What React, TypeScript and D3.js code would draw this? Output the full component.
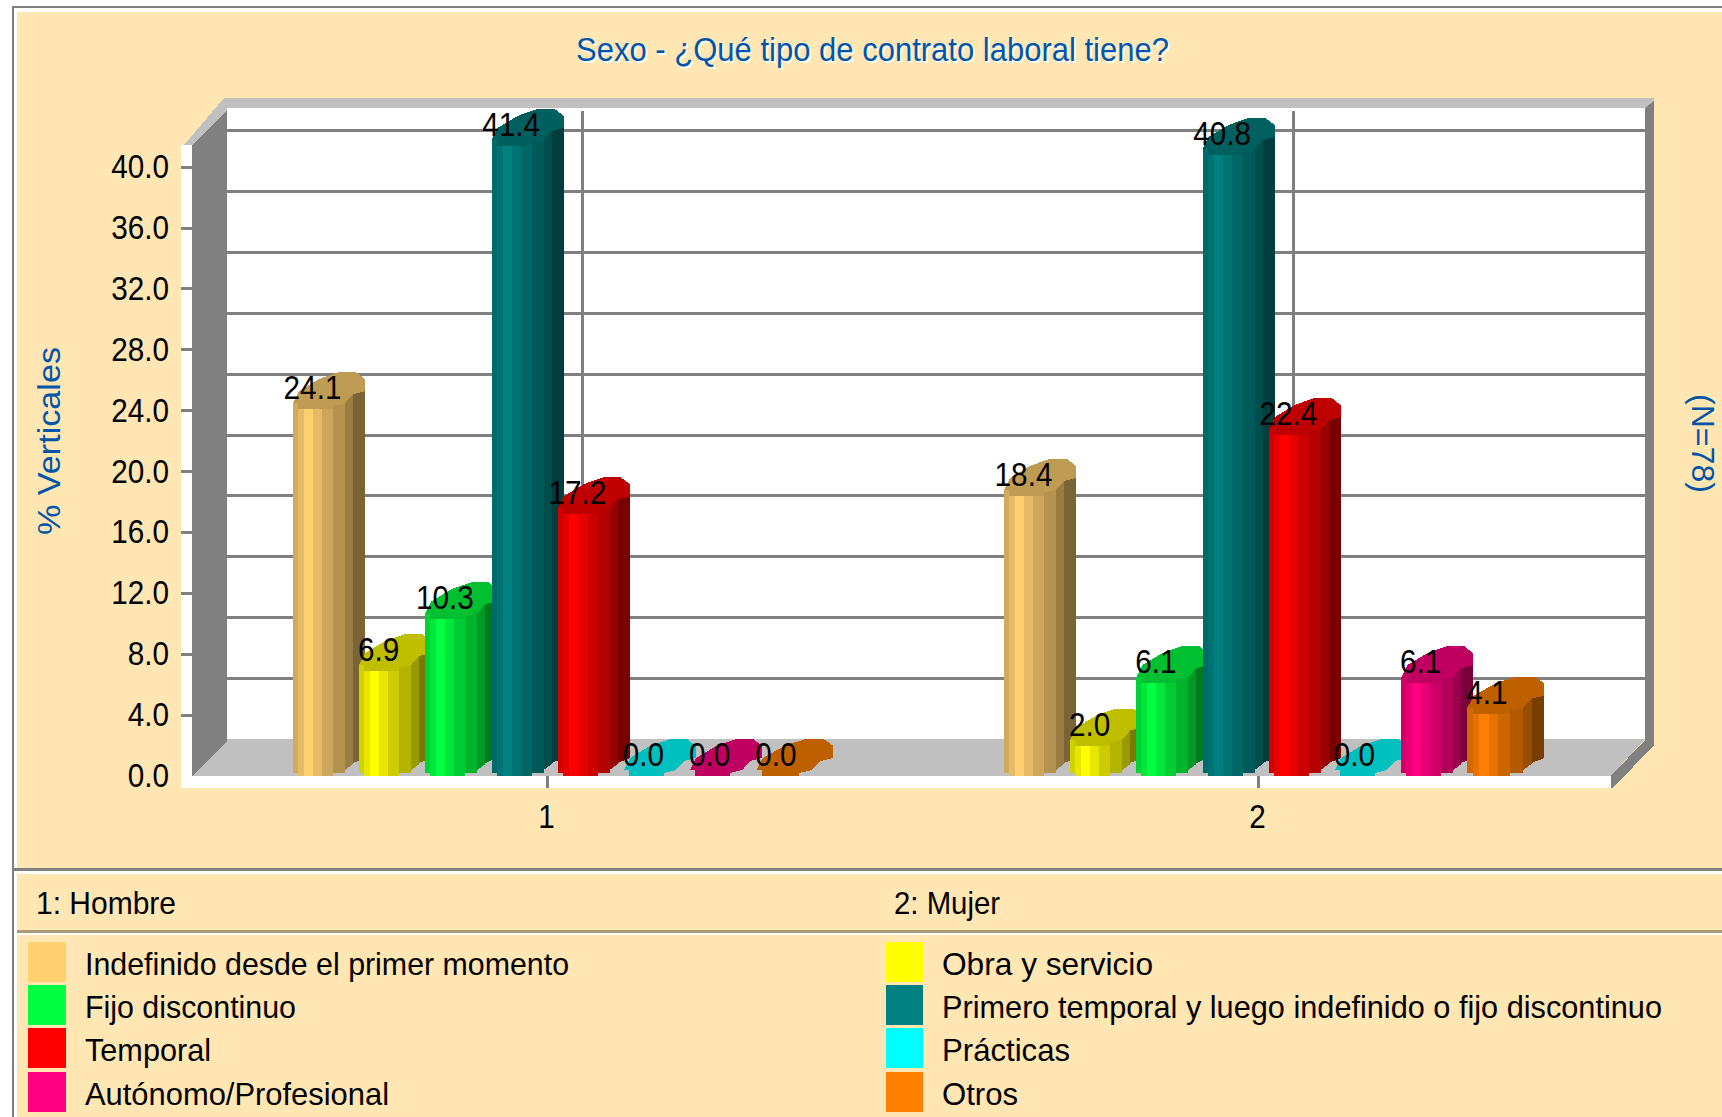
import React from "react";
import * as d3 from "d3";

// ---- data ----
const groups = ["1", "2"];
const groupNames = ["1: Hombre", "2: Mujer"];
const seriesNames = [
  "Indefinido desde el primer momento",
  "Obra y servicio",
  "Fijo discontinuo",
  "Primero temporal y luego indefinido o fijo discontinuo",
  "Temporal",
  "Prácticas",
  "Autónomo/Profesional",
  "Otros",
];
const seriesColors = ["#FFD070", "#FFFF00", "#00FF40", "#008080", "#FF0000", "#00FFFF", "#FF0080", "#FF8000"];
const hombreValues = [24.1, 6.9, 10.3, 41.4, 17.2, 0.0, 0.0, 0.0];
const mujerValues = [18.4, 2.0, 6.1, 40.8, 22.4, 0.0, 6.1, 4.1];
const yTicks = [0, 4, 8, 12, 16, 20, 24, 28, 32, 36, 40];
const title = "Sexo - ¿Qué tipo de contrato laboral tiene?";
const yTitle = "% Verticales";
const rightTitle = "(N=78)";

// ---- layout ----
const W = 1722, H = 1117;
const BG = "#FFE6B3", GRAY = "#808080", LIGHT = "#C0C0C0", INK = "#0055AA";
const FONT = "'Liberation Sans', Arial, sans-serif";
const y = d3.scaleLinear().domain([0, 40]).range([776, 167.2]);
const DEPTH_Y = 36.5;
const groupX = d3.scalePoint<string>().domain(groups).range([547, 1258]);
const barX = d3.scaleLinear().domain([0, 7]).range([-254, 209.4]);
const line = d3.line<[number, number]>().x(d => d[0]).y(d => d[1]);
const closed = (pts: [number, number][]) => line(pts) + "Z";

// facets of the faceted cylinder: dx0, dx1, shade, top dy at both ends, bottom dy at both ends
const facets = [
  [0, 6, 0.82, -6, -6, -3, -3],
  [5, 11, 0.9, 0, 0, 0, 0],
  [11, 20, 1, 0, 0, 0, 0],
  [20, 29, 0.9, 0, 0, 0, 0],
  [29, 40, 0.8, 0, 0, 0, 0],
  [40, 52, 0.7, -3, -6, -3, -3],
  [52, 60, 0.6, -6, -15, -6, -12],
  [60, 72, 0.48, -15, -18, -13, -18],
];
const cap: [number, number][] = [
  [0, -6], [5, -6], [5, 0], [40, 0], [40, -3], [52, -6], [60, -15], [72, -18], [72, -30],
  [63, -37], [46, -37], [34, -33], [26, -30], [6, -18],
];
const shade = (c: string, k: number) => {
  const r = d3.rgb(c);
  return d3.rgb(r.r * k, r.g * k, r.b * k).formatHex();
};

const legendTextWidths = [484, 211, 211, 720, 126, 128, 304, 76];
const legendRows = [942, 985, 1028, 1072];
const legendCols = [[28, 85], [886, 942]];
const groupNameWidths = [140, 106];

function Label({ x, y, children, anchor = "middle" }: any) {
  return (
    <text transform={`translate(${x},${y}) scale(0.9,1)`} textAnchor={anchor} fontFamily={FONT} fontSize={33} fill="#000">
      {children}
    </text>
  );
}

function Bar({ x0, value, color, stretch }: { x0: number; value: number; color: string; stretch: number }) {
  const T = y(value);
  const base = y(0);
  return (
    <g shapeRendering="crispEdges">
      {value > 0 &&
        facets.map((f, i) => (
          <path
            key={i}
            fill={shade(color, f[2])}
            d={closed([
              [x0 + f[0] * stretch, T + f[3]],
              [x0 + f[1] * stretch, T + f[4]],
              [x0 + f[1] * stretch, base + f[6]],
              [x0 + f[0] * stretch, base + f[5]],
            ])}
          />
        ))}
      <path fill={shade(color, 0.75)} d={closed(cap.map(p => [x0 + p[0] * stretch, T + p[1]] as [number, number]))} />
    </g>
  );
}

export default function App() {
  const seriesByGroup = [hombreValues, mujerValues];
  const xOf = (g: number, i: number) => (groupX(groups[g]) as number) + barX(i);
  return (
    <svg width={W} height={H} style={{ position: "absolute", left: 0, top: 0, background: "#fff" }}>
      {/* frame */}
      <rect x={12} y={6} width={W - 12} height={H - 6} fill={GRAY} />
      <rect x={14} y={8} width={W - 14} height={H - 8} fill="#fff" />
      <rect x={17} y={12} width={W - 17} height={H - 12} fill={BG} />

      {/* title */}
      <text x={578} y={63} fontFamily={FONT} fontSize={33} fill="#fff" textLength={593} lengthAdjust="spacingAndGlyphs">{title}</text>
      <text x={576} y={61} fontFamily={FONT} fontSize={33} fill={INK} textLength={593} lengthAdjust="spacingAndGlyphs">{title}</text>

      {/* 3D plot box */}
      <g shapeRendering="crispEdges">
        <rect x={227} y={108} width={1418} height={631} fill="#fff" />
        <path fill={LIGHT} d={closed([[184, 145], [224, 98], [1654, 98], [1654, 101], [1645, 108], [227, 108], [227, 111], [192, 145]])} />
        <rect x={181} y={145} width={11} height={643} fill="#fff" />
        <rect x={181} y={776} width={1430} height={12} fill="#fff" />
        <path fill={GRAY} d={closed([[192, 145], [227, 111], [227, 742], [192, 776]])} />
        <path fill={GRAY} d={closed([[1645, 108], [1654, 101], [1654, 745], [1613, 788], [1611, 788], [1611, 776], [1645, 740]])} />
        {yTicks.filter(t => t > 0).map(t => (
          <g key={t}>
            <rect x={227} y={y(t) - DEPTH_Y - 1.5} width={1418} height={3} fill={GRAY} />
            <rect x={181} y={y(t) - 1.5} width={11} height={3} fill={GRAY} />
          </g>
        ))}
        {groups.map(g => (
          <g key={g}>
            <rect x={(groupX(g) as number) + 34} y={111} width={3} height={628} fill={GRAY} />
            <rect x={(groupX(g) as number) - 1} y={776} width={3} height={12} fill={GRAY} />
          </g>
        ))}
        <path fill={LIGHT} d={closed([[227, 739], [1645, 739], [1611, 776], [192, 776], [227, 742]])} />
      </g>

      {/* bars */}
      {seriesByGroup.map((vals, g) =>
        vals.map((v, i) => (
          <Bar key={`${g}-${i}`} x0={xOf(g, i)} value={v} color={seriesColors[i]} stretch={i === vals.length - 1 ? 1.07 : 1} />
        ))
      )}

      {/* data labels */}
      {seriesByGroup.map((vals, g) =>
        vals.map((v, i) => (
          <Label key={`${g}-${i}`} x={xOf(g, i) + 19.5} y={y(v) - 10}>
            {v.toFixed(1)}
          </Label>
        ))
      )}

      {/* y axis labels */}
      {yTicks.map(t => (
        <Label key={t} x={169} y={y(t) + 11} anchor="end">
          {t.toFixed(1)}
        </Label>
      ))}

      {/* x axis labels */}
      {groups.map(g => (
        <Label key={g} x={(groupX(g) as number) - 0.5} y={828}>
          {g}
        </Label>
      ))}

      {/* axis titles */}
      <text transform="translate(60,535) rotate(-90)" fontFamily={FONT} fontSize={32} fill={INK} textLength={188} lengthAdjust="spacingAndGlyphs">{yTitle}</text>
      <text transform="translate(1692,394) rotate(90)" fontFamily={FONT} fontSize={31} fill={INK} textLength={99} lengthAdjust="spacingAndGlyphs">{rightTitle}</text>

      {/* legend separators */}
      <g shapeRendering="crispEdges">
        <rect x={12} y={868} width={W - 12} height={3} fill={GRAY} />
        <rect x={14} y={871} width={W - 14} height={3} fill="#fff" />
        <rect x={17} y={930} width={W - 17} height={3} fill="#A89B77" />
        <rect x={17} y={933} width={W - 17} height={2} fill="#fff" />
      </g>

      {/* group names */}
      {groupNames.map((n, i) => (
        <text key={n} x={[36, 894][i]} y={914} fontFamily={FONT} fontSize={32} fill="#000" textLength={groupNameWidths[i]} lengthAdjust="spacingAndGlyphs">{n}</text>
      ))}

      {/* legend */}
      {seriesNames.map((n, i) => {
        const col = i % 2;
        const row = Math.floor(i / 2);
        return (
          <g key={n}>
            <rect x={legendCols[col][0]} y={legendRows[row]} width={col ? 37 : 38} height={40} fill={seriesColors[i]} shapeRendering="crispEdges" />
            <text x={legendCols[col][1]} y={legendRows[row] + 33} fontFamily={FONT} fontSize={32} fill="#000" textLength={legendTextWidths[i]} lengthAdjust="spacingAndGlyphs">{n}</text>
          </g>
        );
      })}
    </svg>
  );
}
